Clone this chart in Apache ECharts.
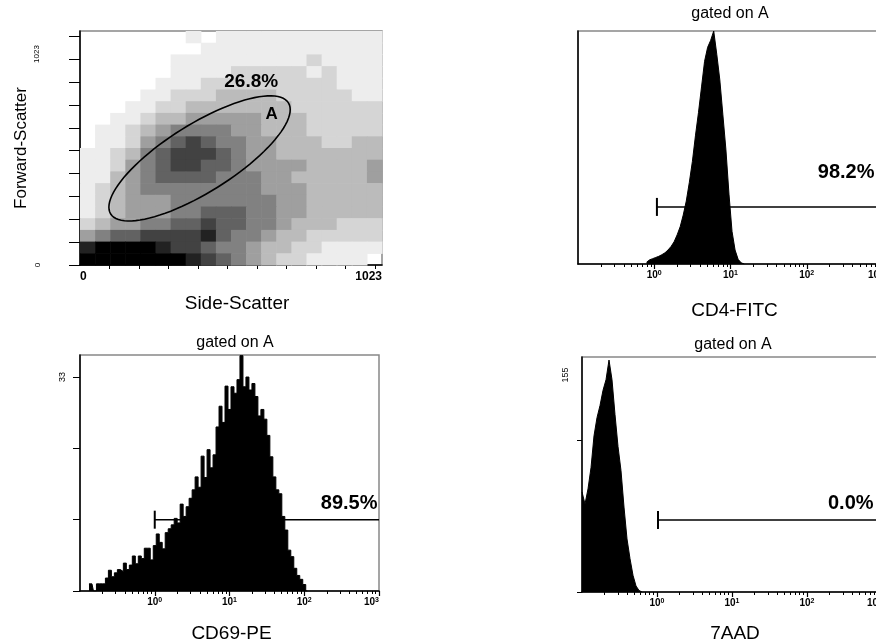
<!DOCTYPE html>
<html><head><meta charset="utf-8">
<script src="https://cdn.jsdelivr.net/npm/echarts@6/dist/echarts.min.js"></script>
<style>html,body{margin:0;padding:0;background:#fff}#c{width:876px;height:643px}</style>
</head><body><div id="c"></div>
<script>
// ================= DATA =================
// Panel 1: Side-Scatter vs Forward-Scatter, dot density
// 20 x 20 cells over 0..1023 on both axes, 0 = empty .. 9 = solid; top row first
const scatterMax = 1023;
const scatterCells = 20;
const scatterDensity = [
  "00000001011111111111",
  "00000000111111111111",
  "00000011111111121111",
  "00000011112222212111",
  "00000111222222222111",
  "00001122233332222211",
  "00011223333333222222",
  "00112334444433322222",
  "01123455554433322222",
  "01124567655443332233",
  "11235677765443333333",
  "11245677665444433334",
  "11345666655544333334",
  "12345555555544433333",
  "12344455555554433333",
  "12344455666554433333",
  "23445566766554333222",
  "45667777865543322222",
  "89999877655433221111",
  "99999998765432211110"
];
const gateA = { center: [405, 466], major: [301, 243], minor: [61, -126] };
const gateALabel = { text: "A", pos: [649, 660] };
const gateAPct = { text: "26.8%", pos: [580, 799] };
const scatterXTicks = [100, 200, 300, 400, 500, 600, 700, 800, 900, 1000];
const scatterYTicks = [0, 100, 200, 300, 400, 500, 600, 700, 800, 900, 1000];
const scatterXLabels = [0, 1023];

// Log-scale histograms: x in log10 units, bins of equal log width
const decades = [0, 1, 2, 3];           // labelled decades 10^0 .. 10^3
const cd4Start = -0.1, cd4Width = 0.04;
const cd4Counts = [0.8, 1.8, 2.3, 2.8, 3.3, 4.0, 4.8, 6.0, 7.5, 9.5, 12.5, 16, 21, 27, 35, 44, 55, 65, 76, 87, 93, 96, 100, 90, 79, 64, 49, 30, 14, 6, 2, 0.5, 0];
const cd4Gate = { from: 0.035, to: 3, y: 24.5, label: "98.2%", labelX: 2.145, labelY: 39.3, align: "left" };

const cd69Start = -0.88, cd69Width = 0.04;
const cd69Counts = [1.1, 1.1, 0, 1.1, 1.1, 1.1, 2.0, 3.2, 2.2, 2.8, 3.3, 3.0, 4.3, 3.3, 4.0, 5.4, 4.2, 5.4, 5.0, 6.6,
  6.6, 4.8, 7.0, 8.8, 7.5, 6.5, 9.0, 9.6, 10.2, 11.2, 10.5, 13.4, 11.5, 13.0, 14.3, 15.6, 17.6, 16.0, 20.8, 17.5,
  21.8, 19.0, 21.0, 25.3, 28.5, 26.0, 31.6, 28.0, 31.5, 30.5, 32.6, 36.3, 31.5, 33.0, 31.0, 32.0, 30.0, 27.0, 28.0, 26.5,
  24.0, 20.7, 17.6, 15.6, 15.0, 11.5, 9.4, 6.3, 5.3, 3.5, 2.4, 1.8, 1.0, 0];
const cd69Gate = { from: 0, to: 3, y: 11, label: "89.5%", labelX: 2.98, labelY: 13.5, align: "right" };
const cd69YTicks = [0, 11, 22, 33];

const aadStart = -1.0, aadWidth = 0.04;
const aadCounts = [66, 58, 68, 82, 103, 115, 123, 133, 140, 153, 140, 117, 96, 80, 56, 35, 22, 11, 4, 1, 0];
const aadGate = { from: 0.013, to: 3, y: 47.5, label: "0.0%", labelX: 2.28, labelY: 58.4, align: "left" };
const aadYTicks = [0, 100];

// ================= CHART =================
const FONT = "'Liberation Sans', Arial, Helvetica, sans-serif";
const chart = echarts.init(document.getElementById('c'), null, { renderer: 'canvas' });

const logMinor = [];
for (let d = -1; d <= 2; d++) for (let k = 2; k <= 9; k++) logMinor.push(d + Math.log10(k));
const logMajor = decades.slice();

const cell = scatterMax / scatterCells;
const densityData = [];
scatterDensity.forEach((row, ri) => {
  const r = scatterDensity.length - 1 - ri;
  for (let c = 0; c < row.length; c++) {
    const d = +row[c];
    if (d > 0) densityData.push([c * cell, r * cell, d]);
  }
});

const grids = [
  { left: 80, top: 31, width: 302, height: 234 },
  { left: 578, top: 31, width: 305, height: 233 },
  { left: 80, top: 355, width: 299, height: 236 },
  { left: 582, top: 357, width: 300, height: 235 }
].map(g => Object.assign(g, { show: true, borderColor: '#888', borderWidth: 1.5, backgroundColor: 'transparent',
                               containLabel: false, outerBoundsMode: 'none' }));

const axLine = { show: true, onZero: false, lineStyle: { color: '#000', width: 1.5 } };
const nameStyle = (pad) => ({ fontFamily: FONT, fontSize: 19, color: '#000', padding: pad });

function logXAxis(gi, name, gap, pad) {
  return {
    type: 'value', gridIndex: gi, min: -1, max: 3, position: 'bottom',
    axisLine: axLine, splitLine: { show: false },
    axisTick: { show: true, customValues: logMinor.concat(logMajor), length: 3, lineStyle: { color: '#000', width: 1 } },
    axisLabel: {
      show: true, customValues: decades, margin: 6, hideOverlap: false, alignMaxLabel: 'right',
      formatter: v => '{b|10}{s|' + v + '}',
      rich: { b: { fontFamily: FONT, fontWeight: 'bold', fontSize: 10, color: '#000' },
              s: { fontFamily: FONT, fontWeight: 'bold', fontSize: 7, color: '#000', verticalAlign: 'top', padding: [0, 0, 4, 0] } }
    },
    name: name, nameLocation: 'middle', nameGap: gap, nameTextStyle: nameStyle(pad)
  };
}
function majorTickAxis(gi) {
  return {
    type: 'value', gridIndex: gi, min: -1, max: 3, position: 'bottom',
    axisLine: { show: false }, splitLine: { show: false }, axisLabel: { show: false },
    axisTick: { show: true, customValues: [0, 1, 2, 3], length: 5, lineStyle: { color: '#000', width: 1.2 } }
  };
}

function histSeries(gi, start, width, counts, step) {
  return {
    type: 'line', xAxisIndex: gi, yAxisIndex: gi, step: step, symbol: 'none', silent: true,
    data: counts.map((v, i) => [start + width * i, v]),
    lineStyle: { color: '#000', width: 1 }, itemStyle: { color: '#000' },
    areaStyle: { color: '#000', opacity: 1 }
  };
}

function gateSeries(gi, gate) {
  return {
    type: 'custom', xAxisIndex: gi, yAxisIndex: gi, silent: true, clip: false,
    data: [[gate.from, gate.y, gate.to]],
    renderItem: (params, api) => {
      const p0 = api.coord([api.value(0), api.value(1)]);
      const p1 = api.coord([api.value(2), api.value(1)]);
      const t = api.coord([gate.labelX, gate.labelY]);
      return { type: 'group', children: [
        { type: 'line', shape: { x1: p0[0], y1: p0[1], x2: p1[0], y2: p1[1] }, style: { stroke: '#000', lineWidth: 1.5 } },
        { type: 'line', shape: { x1: p0[0], y1: p0[1] - 9, x2: p0[0], y2: p0[1] + 9 }, style: { stroke: '#000', lineWidth: 2 } },
        { type: 'text', x: t[0], y: t[1], style: { text: gate.label, font: 'bold 20px ' + FONT, fill: '#000', align: gate.align, verticalAlign: 'middle' } }
      ] };
    }
  };
}

const option = {
  animation: false,
  backgroundColor: '#fff',
  grid: grids,
  xAxis: [
    { type: 'value', gridIndex: 0, min: 0, max: scatterMax, position: 'bottom',
      axisLine: axLine, splitLine: { show: false },
      axisTick: { show: true, customValues: scatterXTicks, length: 4, lineStyle: { color: '#000', width: 1 } },
      axisLabel: { show: true, customValues: scatterXLabels, alignMinLabel: 'left', alignMaxLabel: 'right', margin: 6,
                   formatter: v => String(v), fontFamily: FONT, fontWeight: 'bold', fontSize: 12, color: '#000' },
      name: 'Side-Scatter', nameLocation: 'middle', nameGap: 29, nameTextStyle: nameStyle([0, 0, 0, 12]) },
    logXAxis(1, 'CD4-FITC', 37, [0, 0, 0, 8]),
    logXAxis(2, 'CD69-PE', 33, [0, 0, 0, 4]),
    logXAxis(3, '7AAD', 32, [0, 0, 0, 6]),
    majorTickAxis(1), majorTickAxis(2), majorTickAxis(3)
  ],
  yAxis: [
    { type: 'value', gridIndex: 0, min: 0, max: scatterMax, axisLine: axLine, splitLine: { show: false },
      axisTick: { show: true, customValues: scatterYTicks, length: 11, lineStyle: { color: '#000', width: 1 } },
      axisLabel: { show: false },
      name: 'Forward-Scatter', nameLocation: 'middle', nameGap: 50, nameTextStyle: { fontFamily: FONT, fontSize: 17, color: '#000' } },
    { type: 'value', gridIndex: 1, min: 0, max: 100, axisLine: axLine, splitLine: { show: false },
      axisTick: { show: false }, axisLabel: { show: false } },
    { type: 'value', gridIndex: 2, min: 0, max: 36.4, axisLine: axLine, splitLine: { show: false },
      axisTick: { show: true, customValues: cd69YTicks, length: 7, lineStyle: { color: '#000', width: 1 } },
      axisLabel: { show: true, customValues: [33], rotate: 90, margin: 13, fontFamily: FONT, fontSize: 9, color: '#000' } },
    { type: 'value', gridIndex: 3, min: 0, max: 155, axisLine: axLine, splitLine: { show: false },
      axisTick: { show: true, customValues: aadYTicks, length: 5, lineStyle: { color: '#000', width: 1 } },
      axisLabel: { show: false } }
  ],
  graphic: [
    { type: 'text', x: 37, y: 54, rotation: Math.PI / 2, style: { text: '1023', font: '8px ' + FONT, fill: '#000', align: 'center', verticalAlign: 'middle' } },
    { type: 'text', x: 38, y: 265, rotation: Math.PI / 2, style: { text: '0', font: '8px ' + FONT, fill: '#000', align: 'center', verticalAlign: 'middle' } },
    { type: 'text', x: 566, y: 375, rotation: Math.PI / 2, style: { text: '155', font: '9px ' + FONT, fill: '#000', align: 'center', verticalAlign: 'middle' } },
    { type: 'text', x: 730, y: 14, style: { text: 'gated on A', font: '16px ' + FONT, fill: '#000', align: 'center', verticalAlign: 'middle' } },
    { type: 'text', x: 235, y: 343, style: { text: 'gated on A', font: '16px ' + FONT, fill: '#000', align: 'center', verticalAlign: 'middle' } },
    { type: 'text', x: 733, y: 345, style: { text: 'gated on A', font: '16px ' + FONT, fill: '#000', align: 'center', verticalAlign: 'middle' } }
  ],
  series: [
    { type: 'custom', xAxisIndex: 0, yAxisIndex: 0, silent: true, data: densityData,
      renderItem: (params, api) => {
        const x0 = api.value(0), y0 = api.value(1), d = api.value(2);
        const p0 = api.coord([x0, y0 + cell]);
        const p1 = api.coord([x0 + cell, y0]);
        const g = Math.round(255 * (1 - Math.pow(d / 9, 1.2)));
        return { type: 'rect', shape: { x: p0[0], y: p0[1], width: p1[0] - p0[0] + 0.6, height: p1[1] - p0[1] + 0.6 },
                 style: { fill: 'rgb(' + g + ',' + g + ',' + g + ')' } };
      } },
    { type: 'custom', xAxisIndex: 0, yAxisIndex: 0, silent: true, clip: false, data: [[0]],
      renderItem: (params, api) => {
        const pts = [];
        for (let k = 0; k <= 96; k++) {
          const t = 2 * Math.PI * k / 96;
          pts.push(api.coord([
            gateA.center[0] + Math.cos(t) * gateA.major[0] + Math.sin(t) * gateA.minor[0],
            gateA.center[1] + Math.cos(t) * gateA.major[1] + Math.sin(t) * gateA.minor[1]
          ]));
        }
        const a = api.coord(gateALabel.pos), p = api.coord(gateAPct.pos);
        return { type: 'group', children: [
          { type: 'polygon', shape: { points: pts }, style: { fill: 'none', stroke: '#000', lineWidth: 1.6 } },
          { type: 'text', x: a[0], y: a[1], style: { text: gateALabel.text, font: 'bold 17px ' + FONT, fill: '#000', align: 'center', verticalAlign: 'middle' } },
          { type: 'text', x: p[0], y: p[1], style: { text: gateAPct.text, font: 'bold 19px ' + FONT, fill: '#000', align: 'center', verticalAlign: 'middle' } }
        ] };
      } },
    histSeries(1, cd4Start, cd4Width, cd4Counts, false),
    gateSeries(1, cd4Gate),
    histSeries(2, cd69Start, cd69Width, cd69Counts, 'middle'),
    gateSeries(2, cd69Gate),
    histSeries(3, aadStart, aadWidth, aadCounts, false),
    gateSeries(3, aadGate)
  ]
};
chart.setOption(option);
</script>
</body></html>
